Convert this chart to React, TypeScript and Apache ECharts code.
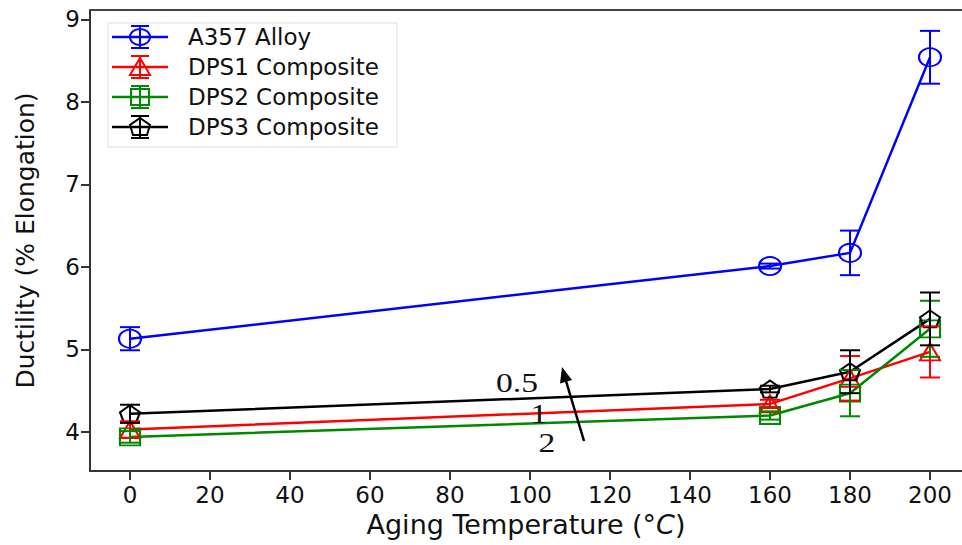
import React, { useEffect, useRef } from "react";
import * as echarts from "echarts";

const xValues = [0, 160, 180, 200];
const seriesNames = ["A357 Alloy", "DPS1 Composite", "DPS2 Composite", "DPS3 Composite"];
const seriesColors = ["#0000ff", "#ff0000", "#008800", "#000000"];
const seriesSymbols = ["circle", "triangle", "rect", "pentagon"];

const a357Values = [5.13, 6.01, 6.17, 8.54];
const a357Errors = [0.14, 0.03, 0.27, 0.32];
const dps1Values = [4.03, 4.34, 4.65, 4.97];
const dps1Errors = [0.1, 0.05, 0.27, 0.31];
const dps2Values = [3.94, 4.2, 4.47, 5.25];
const dps2Errors = [0.07, 0.05, 0.28, 0.34];
const dps3Values = [4.22, 4.52, 4.73, 5.37];
const dps3Errors = [0.11, 0.04, 0.26, 0.32];

const xTicks = [0, 20, 40, 60, 80, 100, 120, 140, 160, 180, 200];
const yTicks = [4, 5, 6, 7, 8, 9];

const annotationLabels = ["0.5", "1", "2"];

const allValues = [a357Values, dps1Values, dps2Values, dps3Values];
const allErrors = [a357Errors, dps1Errors, dps2Errors, dps3Errors];

const PENTAGON = "path://M10,0 L20,7.3 L16.2,18 L3.8,18 L0,7.3 Z";

function symbolFor(s: string) {
  return s === "pentagon" ? PENTAGON : s;
}

function legendMarker(sym: string, cx: number, cy: number, color: string) {
  const style = { fill: "none", stroke: color, lineWidth: 2 };
  if (sym === "circle") return { type: "ellipse", shape: { cx, cy, rx: 10, ry: 8 }, style };
  if (sym === "rect") return { type: "rect", shape: { x: cx - 9, y: cy - 8, width: 18, height: 16 }, style };
  if (sym === "triangle")
    return { type: "polygon", shape: { points: [[cx, cy - 9], [cx + 10, cy + 8], [cx - 10, cy + 8]] }, style };
  return {
    type: "polygon",
    shape: { points: [[cx, cy - 9], [cx + 10, cy - 2], [cx + 7, cy + 8], [cx - 7, cy + 8], [cx - 10, cy - 2]] },
    style,
  };
}

export default function App() {
  const ref = useRef<HTMLDivElement>(null);
  useEffect(() => {
    if (!ref.current) return;
    const chart = echarts.init(ref.current, null, { renderer: "svg" });
    const font = "DejaVu Sans";

    const series: any[] = [];
    seriesNames.forEach((name, i) => {
      const color = seriesColors[i];
      series.push({
        type: "line",
        name,
        data: xValues.map((x, j) => [x, allValues[i][j]]),
        symbol: symbolFor(seriesSymbols[i]),
        symbolSize: seriesSymbols[i] === "circle" ? [22, 18] : [20, 17],
        showAllSymbol: true,
        lineStyle: { color, width: 2.5 },
        itemStyle: { color: "rgba(0,0,0,0)", borderColor: color, borderWidth: 2 },
        emphasis: { disabled: true },
        z: 3,
      });
      series.push({
        type: "custom",
        name: name + " error",
        data: xValues.map((x, j) => [x, allValues[i][j], allErrors[i][j]]),
        encode: { x: 0, y: 1 },
        z: 4,
        renderItem: (params: any, api: any) => {
          const x = api.value(0);
          const y = api.value(1);
          const e = api.value(2);
          const top = api.coord([x, y + e]);
          const bot = api.coord([x, y - e]);
          const hw = 10;
          const st = { stroke: color, lineWidth: 2 };
          return {
            type: "group",
            children: [
              { type: "line", shape: { x1: top[0], y1: top[1], x2: bot[0], y2: bot[1] }, style: st },
              { type: "line", shape: { x1: top[0] - hw, y1: top[1], x2: top[0] + hw, y2: top[1] }, style: st },
              { type: "line", shape: { x1: bot[0] - hw, y1: bot[1], x2: bot[0] + hw, y2: bot[1] }, style: st },
            ],
          };
        },
      });
    });

    const graphics: any[] = [];
    graphics.push({
      type: "rect",
      shape: { x: 108, y: 23, width: 289, height: 124 },
      style: { fill: "#fff", stroke: "#dddddd", lineWidth: 1 },
      z: 10,
    });
    seriesNames.forEach((name, i) => {
      const cy = 37 + i * 30;
      const color = seriesColors[i];
      graphics.push({ type: "line", shape: { x1: 112, y1: cy, x2: 168, y2: cy }, style: { stroke: color, lineWidth: 2.5 }, z: 11 });
      graphics.push({ type: "line", shape: { x1: 140, y1: cy - 11, x2: 140, y2: cy + 11 }, style: { stroke: color, lineWidth: 2 }, z: 11 });
      graphics.push({ type: "line", shape: { x1: 131, y1: cy - 11, x2: 149, y2: cy - 11 }, style: { stroke: color, lineWidth: 2 }, z: 11 });
      graphics.push({ type: "line", shape: { x1: 131, y1: cy + 11, x2: 149, y2: cy + 11 }, style: { stroke: color, lineWidth: 2 }, z: 11 });
      graphics.push({ ...legendMarker(seriesSymbols[i], 140, cy, color), z: 11 });
      graphics.push({
        type: "text",
        x: 188,
        y: cy,
        style: { text: name, fill: "#111", font: `23px "${font}"`, verticalAlign: "middle", align: "left" },
        z: 11,
      });
    });
    const annPos = [[517, 382], [539, 413], [547, 442]];
    annotationLabels.forEach((t, i) => {
      graphics.push({
        type: "text",
        x: annPos[i][0],
        y: annPos[i][1],
        scaleX: 1.2,
        style: { text: t, fill: "#111", font: `28px "Liberation Serif"`, align: "center", verticalAlign: "middle" },
        z: 11,
      });
    });
    graphics.push({ type: "line", shape: { x1: 584, y1: 441, x2: 566, y2: 381 }, style: { stroke: "#000", lineWidth: 2.5 }, z: 11 });
    graphics.push({
      type: "polygon",
      shape: { points: [[562, 367], [572, 380], [560, 383.5]] },
      style: { fill: "#000" },
      z: 11,
    });

    chart.setOption({
      animation: false,
      backgroundColor: "#fff",
      grid: { left: 90, right: 0, top: 10, bottom: 74, containLabel: false },
      xAxis: [
        {
          type: "value",
          min: -10,
          max: 208,
          name: "Aging Temperature (°{i|C})",
          nameLocation: "middle",
          nameGap: 36,
          nameTextStyle: {
            fontFamily: font,
            fontSize: 27,
            color: "#111",
            rich: { i: { fontFamily: font, fontSize: 27, fontStyle: "italic", color: "#111" } },
          },
          axisLine: { show: true, onZero: false, lineStyle: { color: "#333", width: 2 } },
          axisTick: { show: true, customValues: xTicks, length: 9, lineStyle: { color: "#333", width: 2 } },
          axisLabel: { customValues: xTicks, fontFamily: font, fontSize: 23, color: "#111", margin: 12 },
          splitLine: { show: false },
        },
        {
          type: "value",
          position: "top",
          min: -10,
          max: 208,
          axisLine: { show: true, onZero: false, lineStyle: { color: "#444", width: 2 } },
          axisTick: { show: false },
          axisLabel: { show: false },
          splitLine: { show: false },
        },
      ],
      yAxis: {
        type: "value",
        min: 3.527,
        max: 9.113,
        name: "Ductility (% Elongation)",
        nameLocation: "middle",
        nameGap: 52,
        nameTextStyle: { fontFamily: font, fontSize: 25, color: "#111" },
        axisLine: { show: true, onZero: false, lineStyle: { color: "#333", width: 2 } },
        axisTick: { show: true, customValues: yTicks, length: 9, lineStyle: { color: "#333", width: 2 } },
        axisLabel: { customValues: yTicks, fontFamily: font, fontSize: 23, color: "#111", margin: 10 },
        splitLine: { show: false },
      },
      series,
      graphic: graphics,
    });
    return () => chart.dispose();
  }, []);
  return <div ref={ref} style={{ position: "fixed", left: 0, top: 0, width: 962, height: 545 }} />;
}
